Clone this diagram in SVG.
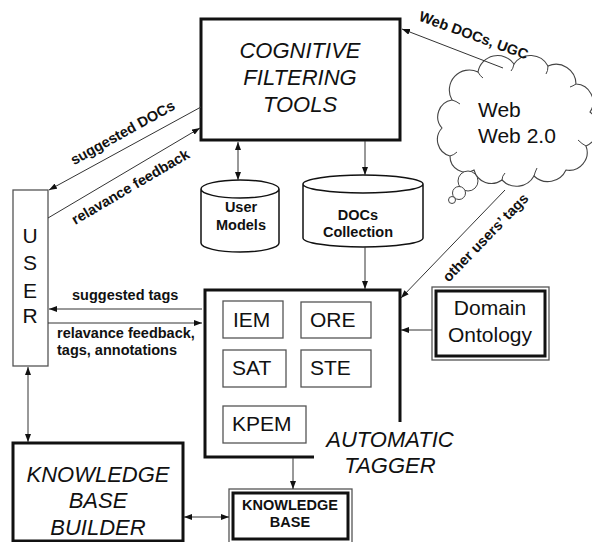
<svg xmlns="http://www.w3.org/2000/svg" width="592" height="542" viewBox="0 0 592 542">
<defs>
<marker id="ah" viewBox="0 0 8 6" refX="8" refY="3" markerWidth="8" markerHeight="6" markerUnits="userSpaceOnUse" orient="auto-start-reverse"><path d="M0,0 L8,3 L0,6 z" fill="#111"/></marker>
<style>
.box{fill:#fff;stroke:#111;stroke-width:3}
.thin{fill:#fff;stroke:#555;stroke-width:1.3}
.cyl{fill:#fff;stroke:#111;stroke-width:1.5}
.con{fill:none;stroke:#333;stroke-width:1}
.it{font-family:"Liberation Sans",Arial,sans-serif;font-style:italic;font-size:22px;fill:#111;text-anchor:middle}
.rg{font-family:"Liberation Sans",Arial,sans-serif;font-size:21px;fill:#111}
.bd{font-family:"Liberation Sans",Arial,sans-serif;font-weight:bold;font-size:14.5px;fill:#111}
</style>
</defs>
<rect width="592" height="542" fill="#fff"/>

<g id="cognitive">
<rect class="box" x="201" y="19" width="199" height="121"/>
<text class="it" x="300" y="58">COGNITIVE</text>
<text class="it" x="300" y="85">FILTERING</text>
<text class="it" x="300" y="112">TOOLS</text>
</g>

<g id="usermodels">
<path class="cyl" d="M201,189 A39,9 0 0 1 279,189 V243 A39,9 0 0 1 201,243 Z M201,189 A39,9 0 0 0 279,189"/>
<text class="bd" x="241" y="212" text-anchor="middle">User</text>
<text class="bd" x="241" y="230" text-anchor="middle">Models</text>
</g>

<g id="docs">
<path class="cyl" d="M303,184 A60,9 0 0 1 423,184 V238 A60,9 0 0 1 303,238 Z M303,184 A60,9 0 0 0 423,184"/>
<text class="bd" x="358" y="220" text-anchor="middle">DOCs</text>
<text class="bd" x="358" y="237" text-anchor="middle">Collection</text>
</g>

<g id="web">
<path fill="#fff" stroke="#444" stroke-width="1.1" d="M452,100 A20,20 0 0 1 478,72 A20,20 0 0 1 514,64 A20,20 0 0 1 548,66 A20,20 0 0 1 576,84 A18,18 0 0 1 590,112 A20,20 0 0 1 586,146 A18,18 0 0 1 566,170 A20,20 0 0 1 534,176 A20,20 0 0 1 502,180 A18,18 0 0 1 474,170 A16,16 0 0 1 450,156 A17,17 0 0 1 442,128 A17,17 0 0 1 452,100 Z"/>
<path fill="none" stroke="#444" stroke-width="1" d="M478,72 q2,4 5,6 M514,64 q-1,5 -3,7 M548,66 q0,5 -2,8 M576,84 q-3,2 -6,3 M586,146 q-4,-2 -8,-6 M534,176 q1,-4 3,-8 M502,180 q0,-4 3,-7 M450,156 q4,-1 7,-4 M452,100 q4,1 8,4"/>
<circle cx="468" cy="181" r="10" fill="#fff" stroke="#444" stroke-width="1"/>
<circle cx="459" cy="193" r="6.5" fill="#fff" stroke="#444" stroke-width="1"/>
<circle cx="452" cy="200" r="3.5" fill="#fff" stroke="#444" stroke-width="1"/>
<text class="rg" x="478" y="117">Web</text>
<text class="rg" x="478" y="143">Web 2.0</text>
</g>

<g id="user">
<rect class="thin" x="13" y="190" width="35" height="176"/>
<text class="rg" x="30" y="243" text-anchor="middle">U</text>
<text class="rg" x="30" y="270" text-anchor="middle">S</text>
<text class="rg" x="30" y="298" text-anchor="middle">E</text>
<text class="rg" x="30" y="323" text-anchor="middle">R</text>
</g>

<g id="tagger">
<path fill="#fff" stroke="#111" stroke-width="3" d="M314,457 H205 V290 H400 V422"/>
<rect class="thin" x="223" y="301" width="60" height="37"/>
<text class="rg" x="233" y="327">IEM</text>
<rect class="thin" x="301" y="302" width="70" height="36"/>
<text class="rg" x="310" y="327">ORE</text>
<rect class="thin" x="223" y="350" width="63" height="37"/>
<text class="rg" x="232" y="375">SAT</text>
<rect class="thin" x="301" y="350" width="70" height="37"/>
<text class="rg" x="310" y="375">STE</text>
<rect class="thin" x="223" y="406" width="83" height="37"/>
<text class="rg" x="232" y="431">KPEM</text>
<text class="it" x="390" y="447">AUTOMATIC</text>
<text class="it" x="390" y="473">TAGGER</text>
</g>

<g id="ontology">
<rect class="thin" x="432" y="287" width="117" height="73"/>
<rect fill="none" stroke="#111" stroke-width="3" x="436" y="291" width="109" height="65"/>
<text class="rg" x="490" y="315" text-anchor="middle">Domain</text>
<text class="rg" x="490" y="342" text-anchor="middle">Ontology</text>
</g>

<g id="kbbuilder">
<rect class="box" x="13" y="443" width="170" height="98"/>
<text class="it" x="98" y="482">KNOWLEDGE</text>
<text class="it" x="98" y="508">BASE</text>
<text class="it" x="98" y="535">BUILDER</text>
</g>

<g id="kb">
<rect class="thin" x="229" y="489" width="123" height="56"/>
<rect fill="none" stroke="#111" stroke-width="3" x="233" y="493" width="115" height="46"/>
<text class="bd" x="290" y="510" text-anchor="middle">KNOWLEDGE</text>
<text class="bd" x="290" y="527" text-anchor="middle">BASE</text>
</g>

<g id="connectors">
<path class="con" d="M238,142 V180" marker-start="url(#ah)" marker-end="url(#ah)"/>
<path class="con" d="M365,141 V175" marker-end="url(#ah)"/>
<path class="con" d="M365,247 V289" marker-end="url(#ah)"/>
<path class="con" d="M503,68 L402,29" marker-end="url(#ah)"/>
<path class="con" d="M505,190 L401,298" marker-end="url(#ah)"/>
<path class="con" d="M432,330 L401,330" marker-end="url(#ah)"/>
<path class="con" d="M201,107 L49,190" marker-end="url(#ah)"/>
<path class="con" d="M48,218 L200,128" marker-end="url(#ah)"/>
<path class="con" d="M202,309 L49,309" marker-end="url(#ah)"/>
<path class="con" d="M48,323 L202,323" marker-end="url(#ah)"/>
<path class="con" d="M28,367 V442" marker-start="url(#ah)" marker-end="url(#ah)"/>
<path class="con" d="M293,458 V489" marker-end="url(#ah)"/>
<path class="con" d="M184,517 H229" marker-start="url(#ah)" marker-end="url(#ah)"/>
<text class="bd" x="125" y="137" text-anchor="middle" transform="rotate(-29 125 137)">suggested DOCs</text>
<text class="bd" x="133" y="191" text-anchor="middle" transform="rotate(-30.5 133 191)">relavance feedback</text>
<text class="bd" x="472" y="40" text-anchor="middle" transform="rotate(20 472 40)">Web DOCs, UGC</text>
<text class="bd" x="489" y="241" text-anchor="middle" transform="rotate(-46 489 241)">other users’ tags</text>
<text class="bd" x="72" y="300">suggested tags</text>
<text class="bd" x="57" y="338">relavance feedback,</text>
<text class="bd" x="57" y="355">tags, annotations</text>
</g>
</svg>
